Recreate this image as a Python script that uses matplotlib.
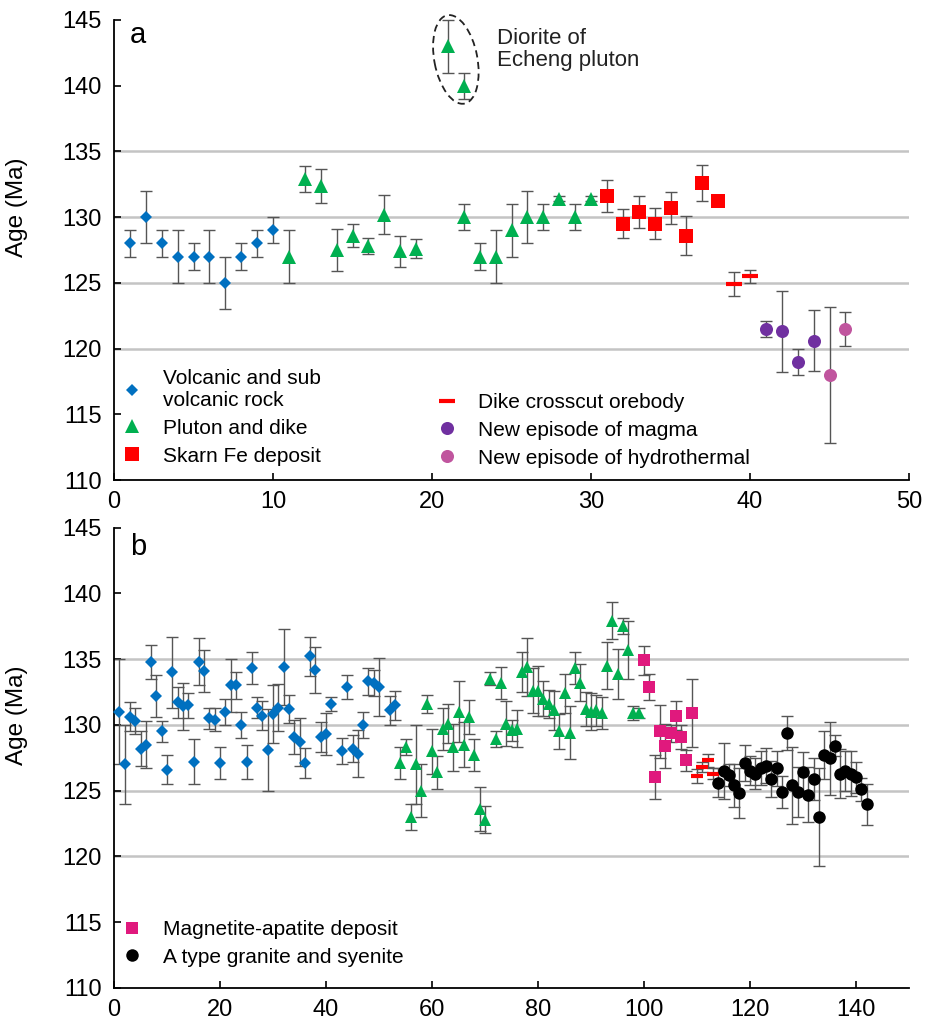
import matplotlib
matplotlib.use("Agg")
import matplotlib.pyplot as plt
from matplotlib.patches import Ellipse
from matplotlib.lines import Line2D
import matplotlib.transforms as mtransforms

plt.rcParams['font.family'] = ['Liberation Sans', 'DejaVu Sans']

# ---------------- Panel a data ----------------
a_volc_x = [1, 2, 3, 4, 5, 6, 7, 8, 9, 10]
a_volc_y = [128, 130, 128, 127, 127, 127, 125, 127, 128, 129]
a_volc_e = [1, 2, 1, 2, 1, 2, 2, 1, 1, 1]

a_plut_x = [11, 12, 13, 14, 15, 16, 17, 18, 19, 21, 22, 22, 23, 24, 25, 26, 27, 28, 29, 30]
a_plut_y = [127, 132.9, 132.4, 127.5, 128.6, 127.8, 130.2, 127.4, 127.6, 143.0, 140.0,
            130.0, 127.0, 127.0, 129.0, 130.0, 130.0, 131.4, 130.0, 131.4]
a_plut_e = [2, 1, 1.3, 1.6, 0.9, 0.6, 1.5, 1.2, 0.7, 2, 1, 1, 1, 2, 2, 2, 1, 0.2, 1, 0.2]

a_skarn_x = [31, 32, 33, 34, 35, 36, 37, 38]
a_skarn_y = [131.6, 129.5, 130.4, 129.5, 130.7, 128.6, 132.6, 131.2]
a_skarn_e = [1.2, 1.1, 1.2, 1.2, 1.2, 1.5, 1.4, 0.2]

a_dike_x = [39, 40]
a_dike_y = [124.9, 125.5]
a_dike_e = [0.9, 0.5]

a_magma_x = [41, 42, 43, 44]
a_magma_y = [121.5, 121.3, 119.0, 120.6]
a_magma_e = [0.6, 3.1, 1.0, 2.3]

a_hydro_x = [45, 46]
a_hydro_y = [118.0, 121.5]
a_hydro_e = [5.2, 1.3]

# ---------------- Panel b data ----------------
b_volc_x = list(range(1, 42)) + list(range(43, 51)) + [52, 53]
b_volc_y = [131.0, 127.0, 130.6, 130.3, 128.2, 128.5, 134.8, 132.2, 129.5, 126.6,
            134.0, 131.7, 131.4, 131.5, 127.2, 134.8, 134.1, 130.5, 130.4, 127.1,
            131.0, 133.0, 133.0, 130.0, 127.2, 134.3, 131.3, 130.7, 128.1, 130.8,
            131.3, 134.4, 131.2, 129.1, 128.7, 127.1, 135.2, 134.2, 129.1, 129.3,
            131.6, 128.0, 132.9, 128.2, 127.8, 130.0, 133.3, 133.2, 132.9, 131.1,
            131.5]
b_volc_e = [4.0, 3.0, 1.1, 1.0, 1.3, 1.8, 1.3, 1.6, 0.8, 1.1,
            2.7, 1.2, 1.8, 0.95, 1.7, 1.8, 1.6, 0.8, 0.9, 1.2,
            1.0, 2.0, 1.0, 1.0, 1.3, 1.2, 0.8, 1.1, 3.1, 2.2,
            1.8, 2.9, 1.05, 1.3, 1.8, 1.15, 1.45, 1.75, 1.15, 1.6,
            0.55, 1.0, 0.9, 1.0, 1.8, 1.0, 1.0, 1.0, 2.2, 1.1,
            1.1]

b_plut_x = list(range(54, 100))
b_plut_y = [127.1, 128.3, 123.0, 127.0, 125.0, 131.6, 128.0, 126.4, 129.7, 130.1,
            128.3, 131.0, 128.5, 130.6, 127.7, 123.6, 122.8, 133.5, 128.9, 133.2,
            130.1, 129.6, 129.7, 134.0, 134.4, 132.6, 132.6, 132.0, 131.6, 131.1,
            129.5, 132.4, 129.4, 134.3, 133.2, 131.2, 131.0, 131.1, 130.9, 134.5,
            137.9, 133.9, 137.5, 135.7, 130.9, 130.9]
b_plut_e = [1.2, 0.6, 1.0, 3.0, 2.0, 0.7, 1.7, 1.25, 1.6, 1.5,
            1.8, 2.3, 1.7, 1.3, 1.2, 1.7, 1.0, 0.5, 0.6, 1.2,
            1.7, 0.8, 1.4, 1.5, 2.2, 1.7, 1.9, 1.3, 1.05, 1.5,
            1.3, 1.5, 2.0, 1.2, 1.4, 1.3, 1.4, 1.2, 1.2, 1.8,
            1.4, 1.9, 0.6, 2.2, 0.5, 0.4]

b_magn_x = list(range(100, 110))
b_magn_y = [134.9, 132.9, 126.05, 129.5, 128.4, 129.35, 130.7, 129.1, 127.3, 130.9]
b_magn_e = [1.1, 1.0, 1.65, 2.0, 1.7, 0.65, 1.08, 0.9, 0.8, 2.6]

b_dike_x = [110, 111, 112, 113]
b_dike_y = [126.1, 126.8, 127.3, 126.3]
b_dike_e = [0.55, 0.4, 0.5, 0.4]

b_atype_x = list(range(114, 143))
b_atype_y = [125.6, 126.5, 126.2, 125.4, 124.8, 127.1, 126.5, 126.3, 126.7, 126.9,
             125.9, 126.7, 124.9, 129.4, 125.4, 124.9, 126.4, 124.7, 125.9, 123.0,
             127.7, 127.45, 128.4, 126.3, 126.5, 126.3, 126.0, 125.1, 123.95]
b_atype_e = [1.1, 2.1, 0.85, 1.65, 1.9, 1.4, 1.1, 1.2, 1.3, 1.35,
             1.35, 1.35, 1.25, 1.3, 2.9, 1.9, 1.5, 2.1, 1.6, 3.7,
             1.8, 2.8, 0.8, 1.85, 1.55, 1.7, 1.15, 0.85, 1.55]

y_ticks = [110, 115, 120, 125, 130, 135, 140, 145]
grid_levels = [120, 125, 130, 135]
a_xticks = [0, 10, 20, 30, 40, 50]
b_xticks = [0, 20, 40, 60, 80, 100, 120, 140]

# ---------------- Styles ----------------
C_BLUE = '#0070C0'
C_GREEN = '#00B050'
C_RED = '#FF0000'
C_PURPLE = '#7030A0'
C_PINK = '#C0559E'
C_MAGENTA = '#E0197D'
C_BLACK = '#000000'
ECOL = '#555555'

FS_TICK = 17
FS_LEG = 15

W, H = 927, 1027
fig = plt.figure(figsize=(W / 100, H / 100), dpi=100)
ax_a = fig.add_axes([114 / W, 1 - 480 / H, 795 / W, 460 / H])
ax_b = fig.add_axes([114 / W, 1 - 988 / H, 795 / W, 460.5 / H])


def series(ax, x, y, e, marker, color, ms, mew=0.0):
    ax.errorbar(x, y, yerr=e, fmt='none', ecolor=ECOL, elinewidth=1.0,
                capsize=4, capthick=1.0, zorder=2, clip_on=False)
    ax.plot(x, y, linestyle='none', marker=marker, color=color, ms=ms,
            mec=color, mew=mew, zorder=3, clip_on=False)


def handle(marker, color, ms, mew=0.0):
    return Line2D([], [], ls='none', marker=marker, color=color, ms=ms, mew=mew)


def style_axes(ax, xticks, xmax):
    ax.set_xlim(0, xmax)
    ax.set_ylim(110, 145)
    ax.set_xticks(xticks)
    ax.set_yticks(y_ticks)
    for v in grid_levels:
        ax.axhline(v, color='#c4c4c4', lw=1.8, zorder=0)
    for s in ('top', 'right'):
        ax.spines[s].set_visible(False)
    for s in ('left', 'bottom'):
        ax.spines[s].set_linewidth(1.3)
    ax.tick_params(axis='both', direction='in', length=5, width=1.2,
                   labelsize=FS_TICK)
    ax.tick_params(axis='y', pad=9)
    ax.tick_params(axis='x', pad=8)
    ax.set_ylabel('Age (Ma)', fontsize=17.5)
    ax.yaxis.set_label_coords(-0.108, 0.593)


leg_kw = dict(frameon=False, fontsize=FS_LEG, borderpad=0, borderaxespad=0,
              handlelength=1.0, handletextpad=0.95, labelspacing=0.42,
              loc='upper left', bbox_transform=fig.transFigure)

# marker sizes
MS_D, MS_T, MS_S, MS_O = 6.6, 9.6, 9.4, 9.4

# ---------------- Panel a ----------------
style_axes(ax_a, a_xticks, 50)
series(ax_a, a_volc_x, a_volc_y, a_volc_e, 'D', C_BLUE, MS_D)
series(ax_a, a_plut_x, a_plut_y, a_plut_e, '^', C_GREEN, MS_T)
series(ax_a, a_skarn_x, a_skarn_y, a_skarn_e, 's', C_RED, MS_S)
series(ax_a, a_dike_x, a_dike_y, a_dike_e, '_', C_RED, 11, mew=3)
series(ax_a, a_magma_x, a_magma_y, a_magma_e, 'o', C_PURPLE, MS_O)
series(ax_a, a_hydro_x, a_hydro_y, a_hydro_e, 'o', C_PINK, MS_O)

ax_a.text(1.0, 143.27, 'a', fontsize=21, va='baseline', ha='left')

# dashed outline around the Echeng diorite ages
ell_trans = fig.dpi_scale_trans + mtransforms.ScaledTranslation(21.5, 142.0, ax_a.transData)
ax_a.add_patch(Ellipse((0, 0), width=0.90, height=0.43, angle=-79,
                       transform=ell_trans, fill=False, ls=(0, (4, 2.5)),
                       lw=1.3, ec='#222222', clip_on=False, zorder=4))
ax_a.text(24.1, 142.75, 'Diorite of\nEcheng pluton', fontsize=16,
          va='center', ha='left', linespacing=1.08, color='#222222')

leg1 = ax_a.legend([handle('D', C_BLUE, MS_D), handle('^', C_GREEN, MS_T),
                    handle('s', C_RED, MS_S)],
                   ['Volcanic and sub\nvolcanic rock', 'Pluton and dike', 'Skarn Fe deposit'],
                   bbox_to_anchor=(122 / W, 1 - 369 / H), **leg_kw)
ax_a.add_artist(leg1)
ax_a.legend([handle('_', C_RED, 11, mew=3), handle('o', C_PURPLE, MS_O),
             handle('o', C_PINK, MS_O)],
            ['Dike crosscut orebody', 'New episode of magma', 'New episode of hydrothermal'],
            bbox_to_anchor=(437 / W, 1 - 393 / H), **leg_kw)

# ---------------- Panel b ----------------
style_axes(ax_b, b_xticks, 150)
series(ax_b, b_volc_x, b_volc_y, b_volc_e, 'D', C_BLUE, 6.2)
series(ax_b, b_plut_x, b_plut_y, b_plut_e, '^', C_GREEN, 9.0)
series(ax_b, b_magn_x, b_magn_y, b_magn_e, 's', C_MAGENTA, 8.4)
series(ax_b, b_dike_x, b_dike_y, b_dike_e, '_', C_RED, 8, mew=3)
series(ax_b, b_atype_x, b_atype_y, b_atype_e, 'o', C_BLACK, 9.0)

ax_b.text(3.0, 142.9, 'b', fontsize=21, va='baseline', ha='left')

ax_b.legend([handle('s', C_MAGENTA, 8.4), handle('o', C_BLACK, 9.0)],
            ['Magnetite-apatite deposit', 'A type granite and syenite'],
            bbox_to_anchor=(122 / W, 1 - 920 / H), **leg_kw)

fig.savefig('out.png', dpi=100)
